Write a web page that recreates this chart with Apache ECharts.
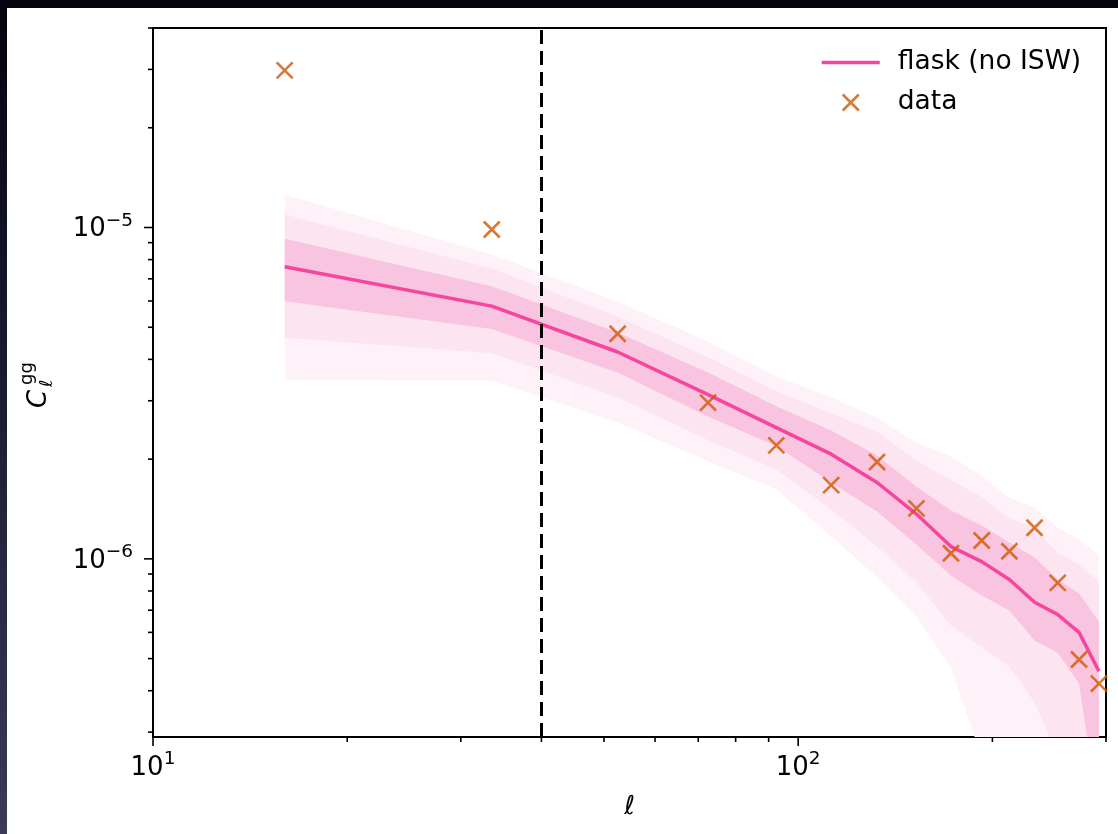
<!DOCTYPE html>
<html><head><meta charset="utf-8">
<script src="https://cdn.jsdelivr.net/npm/echarts@6/dist/echarts.min.js"></script>
<style>
html,body{margin:0;padding:0;width:1118px;height:834px;overflow:hidden;background:linear-gradient(to bottom,#04040e 0%,#1a1a34 45%,#3b3b58 100%);}
#bg{position:absolute;left:7px;top:8px;width:1111px;height:826px;background:#fff;}
#chart{position:absolute;left:0;top:0;width:1118px;height:834px;}
</style></head><body><div id="bg"></div><div id="chart"></div>
<script>
// multipole bin centres
const ell = [16, 33.5, 52.5, 72.5, 92.5, 112.5, 132.5, 152.5, 172.5, 192.5, 212.5, 232.5, 252.5, 272.5, 292.5];
// measured C_ell^gg
const dataCl = [2.98e-5, 9.86e-6, 4.78e-6, 2.96e-6, 2.20e-6, 1.67e-6, 1.96e-6, 1.42e-6, 1.04e-6, 1.136e-6, 1.054e-6, 1.241e-6, 8.46e-7, 4.97e-7, 4.20e-7];
// flask (no ISW) mean
const modelCl = [7.61e-6, 5.79e-6, 4.21e-6, 3.13e-6, 2.49e-6, 2.07e-6, 1.70e-6, 1.365e-6, 1.089e-6, 9.81e-7, 8.66e-7, 7.40e-7, 6.79e-7, 6.00e-7, 4.58e-7];
// 1-sigma band
const band1Hi = [9.24e-6, 6.65e-6, 4.82e-6, 3.65e-6, 2.89e-6, 2.44e-6, 2.05e-6, 1.65e-6, 1.40e-6, 1.26e-6, 1.12e-6, 1.01e-6, 8.66e-7, 7.86e-7, 6.47e-7];
const band1Lo = [5.99e-6, 4.94e-6, 3.65e-6, 2.69e-6, 2.19e-6, 1.70e-6, 1.39e-6, 1.105e-6, 8.91e-7, 7.75e-7, 6.98e-7, 5.67e-7, 5.21e-7, 4.20e-7, 1.68e-7];
// 2-sigma band
const band2Hi = [1.094e-5, 7.52e-6, 5.39e-6, 4.06e-6, 3.21e-6, 2.75e-6, 2.42e-6, 1.98e-6, 1.73e-6, 1.54e-6, 1.33e-6, 1.23e-6, 1.045e-6, 9.61e-7, 8.54e-7];
const band2Lo = [4.65e-6, 4.17e-6, 3.07e-6, 2.28e-6, 1.86e-6, 1.41e-6, 1.09e-6, 8.48e-7, 6.29e-7, 5.40e-7, 4.73e-7, 3.68e-7, 2.55e-7, 1.80e-7, 1.10e-7];
// 3-sigma band
const band3Hi = [1.258e-5, 8.29e-6, 5.98e-6, 4.53e-6, 3.56e-6, 3.07e-6, 2.67e-6, 2.24e-6, 2.04e-6, 1.78e-6, 1.53e-6, 1.43e-6, 1.243e-6, 1.144e-6, 1.03e-6];
const band3Lo = [3.46e-6, 3.45e-6, 2.58e-6, 1.97e-6, 1.62e-6, 1.17e-6, 8.78e-7, 6.70e-7, 4.70e-7, 2.51e-7, 1.70e-7, 1.20e-7, 9.0e-8, 7.0e-8, 5.0e-8];
// scale cut
const ellCut = [40];
// axis ranges & ticks
const xRange = [10, 300];
const yRange = [2.9e-7, 4.0e-5];
const xMajorTicks = [10, 100];
const xMinorTicks = [20, 30, 40, 50, 60, 70, 80, 90, 200, 300];
const yMajorTicks = [1e-6, 1e-5];
const yMinorTicks = [3e-7, 4e-7, 5e-7, 6e-7, 7e-7, 8e-7, 9e-7, 2e-6, 3e-6, 4e-6, 5e-6, 6e-6, 7e-6, 8e-6, 9e-6, 2e-5, 3e-5, 4e-5];

const FONT = 'DejaVu Sans';
const LINE_COLOR = '#f5459c';
const DATA_COLOR = '#d05800';

const chart = echarts.init(document.getElementById('chart'), null, {renderer: 'canvas'});

function bandSeries(lo, hi, color) {
  return {
    type: 'custom', clip: true, silent: true, z: 1,
    data: [[ell[0], hi[0]]],
    renderItem(params, api) {
      const pts = [];
      for (let i = 0; i < ell.length; i++) pts.push(api.coord([ell[i], hi[i]]));
      for (let i = ell.length - 1; i >= 0; i--) pts.push(api.coord([ell[i], lo[i]]));
      return {type: 'polygon', shape: {points: pts}, style: {fill: color}};
    }
  };
}

function supLabel(v) {
  const e = Math.log10(v);
  const r = Math.round(e);
  if (Math.abs(e - r) > 1e-6) return '';
  return '{b|10}{s|' + (r < 0 ? '\u2212' : '') + Math.abs(r) + '}';
}
const richLab = {
  b: {fontFamily: FONT, fontSize: 26, color: '#000', lineHeight: 30, verticalAlign: 'bottom'},
  s: {fontFamily: FONT, fontSize: 18.5, color: '#000', lineHeight: 18, padding: [0, 0, 12, 0], verticalAlign: 'bottom'}
};

const xTickData = xMajorTicks.map(v => [v, yRange[0], 1]).concat(xMinorTicks.map(v => [v, yRange[0], 0]));
const yTickData = yMajorTicks.map(v => [xRange[0], v, 1]).concat(yMinorTicks.map(v => [xRange[0], v, 0]));

const option = {
  backgroundColor: 'transparent',
  animation: false,
  grid: {left: 153, top: 28, width: 953, height: 709, show: true, borderColor: '#000', borderWidth: 2, backgroundColor: 'transparent'},
  xAxis: {
    type: 'log', logBase: 10, min: xRange[0], max: xRange[1],
    axisLine: {show: false}, axisTick: {show: false}, splitLine: {show: false},
    axisLabel: {formatter: supLabel, rich: richLab, margin: 14},
    name: '\u2113', nameLocation: 'middle', nameGap: 57,
    nameTextStyle: {fontFamily: FONT, fontSize: 26, fontStyle: 'italic', color: '#000'}
  },
  yAxis: {
    type: 'log', logBase: 10, min: yRange[0], max: yRange[1],
    axisLine: {show: false}, axisTick: {show: false}, splitLine: {show: false},
    axisLabel: {formatter: supLabel, rich: richLab, margin: 20}
  },
  legend: {
    left: 815, top: 44, orient: 'vertical', itemWidth: 58, itemHeight: 16, itemGap: 13,
    selectedMode: false,
    textStyle: {fontFamily: FONT, fontSize: 26.5, color: '#000', lineHeight: 22, padding: [0, 0, 0, 13]},
    data: [
      {name: 'flask (no ISW)', itemStyle: {color: 'rgba(0,0,0,0)', borderWidth: 0, opacity: 0}, lineStyle: {color: LINE_COLOR, width: 3.5}},
      {name: 'data', itemStyle: {color: 'rgba(0,0,0,0)', borderColor: DATA_COLOR, borderWidth: 2.6}}
    ]
  },
  series: [
    bandSeries(band3Lo, band3Hi, '#fef2f8'),
    bandSeries(band2Lo, band2Hi, '#fde4f1'),
    bandSeries(band1Lo, band1Hi, '#f9c4df'),
    {
      name: 'flask (no ISW)', type: 'line', z: 3, symbol: 'none', silent: true,
      data: ell.map((l, i) => [l, modelCl[i]]),
      lineStyle: {color: LINE_COLOR, width: 3.5}, itemStyle: {color: LINE_COLOR}
    },
    {
      type: 'line', z: 4, data: [], silent: true,
      markLine: {
        silent: true, symbol: ['none', 'none'], label: {show: false},
        lineStyle: {color: '#000', type: [14, 7], width: 3},
        data: ellCut.map(v => ({xAxis: v}))
      }
    },
    {
      name: 'data', type: 'scatter', z: 5, silent: true,
      symbol: 'path://M0,0L16,16M16,0L0,16', symbolSize: 16, symbolKeepAspect: true,
      itemStyle: {color: 'rgba(0,0,0,0)', borderColor: DATA_COLOR, borderWidth: 2.6},
      data: ell.map((l, i) => [l, dataCl[i]])
    },
    {
      type: 'custom', silent: true, clip: false, z: 10, data: xTickData,
      renderItem(params, api) {
        const x = api.coord([api.value(0), yRange[0]])[0];
        const b = params.coordSys.y + params.coordSys.height;
        const len = api.value(2) ? 9 : 5;
        return {type: 'line', shape: {x1: x, y1: b, x2: x, y2: b + len}, style: {stroke: '#000', lineWidth: 1.6}};
      }
    },
    {
      type: 'custom', silent: true, clip: false, z: 10, data: yTickData,
      renderItem(params, api) {
        const y = api.coord([xRange[0], api.value(1)])[1];
        const l = params.coordSys.x;
        const len = api.value(2) ? 9 : 5;
        return {type: 'line', shape: {x1: l, y1: y, x2: l - len, y2: y}, style: {stroke: '#000', lineWidth: 1.6}};
      }
    }
  ],
  graphic: [{
    type: 'group', x: 48, y: 408, rotation: Math.PI / 2,
    children: [
      {type: 'text', x: 0, y: -9, style: {text: 'C', font: 'italic 26px "DejaVu Sans"', fill: '#000', align: 'left', verticalAlign: 'middle'}},
      {type: 'text', x: 21, y: -1, style: {text: '\u2113', font: 'italic 18px "DejaVu Sans"', fill: '#000', align: 'left', verticalAlign: 'middle'}},
      {type: 'text', x: 23, y: -21, style: {text: 'gg', font: '18px "DejaVu Sans"', fill: '#000', align: 'left', verticalAlign: 'middle'}}
    ]
  }]
};
chart.setOption(option);
</script>
</body></html>
